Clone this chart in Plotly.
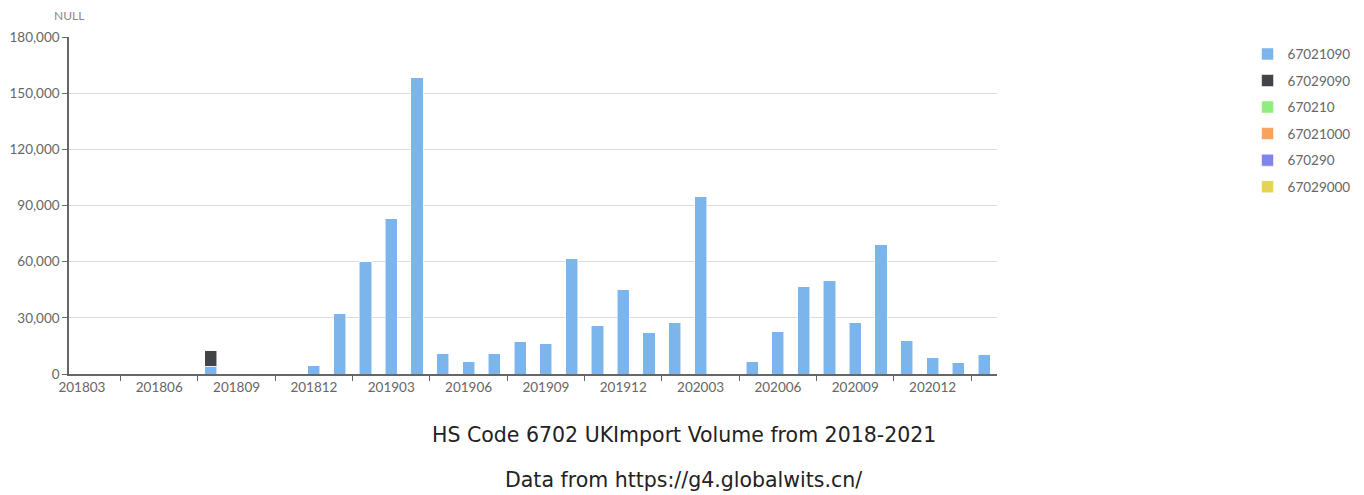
import plotly.graph_objects as go

months = ["201803", "201804", "201805", "201806", "201807", "201808", "201809", "201810", "201811",
          "201812", "201901", "201902", "201903", "201904", "201905", "201906", "201907", "201908",
          "201909", "201910", "201911", "201912", "202001", "202002", "202003", "202004", "202005",
          "202006", "202007", "202008", "202009", "202010", "202011", "202012", "202101", "202102"]

s_67021090 = [0, 0, 0, 0, 0, 4200, 0, 0, 0,
              4300, 32100, 59900, 82800, 158300, 11200, 6600, 10900, 17400,
              16500, 61900, 26100, 45400, 22000, 27500, 94700, 0, 6900,
              22600, 47000, 50100, 27500, 69200, 17900, 8700, 6000, 10600]
s_67029090 = [0, 0, 0, 0, 0, 8600, 0, 0, 0,
              0, 0, 0, 0, 0, 0, 0, 0, 0,
              0, 0, 0, 0, 0, 0, 0, 0, 0,
              0, 0, 0, 0, 0, 0, 0, 0, 0]
zeros = [0] * len(months)
s_670210 = zeros
s_67021000 = zeros
s_670290 = zeros
s_67029000 = zeros

series_names = ["67021090", "67029090", "670210", "67021000", "670290", "67029000"]
series_values = [s_67021090, s_67029090, s_670210, s_67021000, s_670290, s_67029000]
colors = ["#7cb5ec", "#434348", "#90ed7d", "#f7a35c", "#8085e9", "#e4d354"]

tick_labels = months[::3]

xpos = list(range(len(months)))

fig = go.Figure()
for name, vals, col in zip(series_names, series_values, colors):
    fig.add_trace(go.Bar(
        x=xpos, y=vals, name=name, legendgroup=name,
        marker=dict(color=col, line=dict(color="rgba(255,255,255,0.55)", width=1)),
        hovertext=months,
    ))

fig.update_layout(
    barmode="stack",
    bargap=0.53,
    width=1356, height=487,
    margin=dict(l=61, r=367, t=29, b=120.5, autoexpand=False),
    paper_bgcolor="white", plot_bgcolor="white",
    font=dict(family="Lato, sans-serif", size=13, color="#666"),
    showlegend=True,
    legend=dict(x=1.270, y=0.995, xanchor="left", yanchor="top",
                font=dict(size=13.5, color="#666"), tracegroupgap=6,
                bgcolor="rgba(0,0,0,0)"),
    xaxis=dict(
        range=[-0.5, len(months) - 0.5],
        tickvals=xpos[::3], ticktext=tick_labels,
        ticks="", showgrid=False, zeroline=False,
        showline=True, linecolor="#666", linewidth=1.5,
        tickfont=dict(size=13.5, color="#666"),
        minor=dict(tick0=1.5, dtick=3, ticks="outside", ticklen=5,
                   tickcolor="#666", tickwidth=1, showgrid=False),
    ),
    yaxis=dict(
        range=[0, 180000], dtick=30000, tickformat=",",
        ticks="outside", ticklen=5, tickcolor="#666",
        showgrid=True, gridcolor="#dcdcdc", gridwidth=1, zeroline=False,
        showline=True, linecolor="#666", linewidth=1.5,
        tickfont=dict(size=13.5, color="#666"),
    ),
    annotations=[
        dict(text="NULL", xref="paper", yref="paper", x=0, y=1.0, yshift=22,
             xanchor="center", yanchor="middle", showarrow=False,
             font=dict(size=12, color="#888")),
        dict(text="HS Code 6702 UKImport Volume from 2018-2021", xref="paper", yref="paper",
             x=0.6624, y=-0.182, xanchor="center", yanchor="middle", showarrow=False,
             font=dict(family="DejaVu Sans", size=20.5, color="#222")),
        dict(text="Data from https://g4.globalwits.cn/", xref="paper", yref="paper",
             x=0.6624, y=-0.3156, xanchor="center", yanchor="middle", showarrow=False,
             font=dict(family="DejaVu Sans", size=20.5, color="#222")),
    ],
)

fig.write_html("out.html")
